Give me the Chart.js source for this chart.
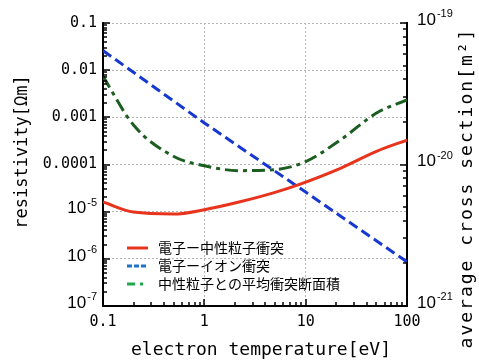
<!DOCTYPE html>
<html><head><meta charset="utf-8">
<script src="https://cdn.jsdelivr.net/npm/chart.js@4/dist/chart.umd.min.js"></script>
<style>html,body{margin:0;padding:0;background:#fff}#wrap{width:479px;height:362px}</style>
</head><body><div id="wrap"><canvas id="c" width="479" height="362"></canvas></div>
<script>
// ---- data ----
const seriesNames = ['電子ー中性粒子衝突', '電子ーイオン衝突', '中性粒子との平均衝突断面積'];
const redT = [0.1, 0.2, 0.5, 1, 2.2, 4.8, 8.7, 22, 50, 100];
const redRes = [1.6e-5, 9.8e-6, 8.9e-6, 1.1e-5, 1.6e-5, 2.5e-5, 3.8e-5, 8.3e-5, 1.9e-4, 3.3e-4];
const blueT = [0.1, 1, 10, 100];
const blueRes = [0.026, 7.6e-4, 2.6e-5, 8.6e-7];
const greenT = [0.1, 0.2, 0.5, 1, 2.2, 5, 10, 22, 50, 100];
const greenSigma = [4.2e-20, 1.9e-20, 1.14e-20, 9.8e-21, 9.05e-21, 9.2e-21, 1.05e-20, 1.49e-20, 2.31e-20, 2.86e-20];
const xTickValues = [0.1, 1, 10, 100];
const xTickLabels = ['0.1', '1', '10', '100'];
const yTickValues = [0.1, 0.01, 0.001, 0.0001, 1e-5, 1e-6, 1e-7];
const yTickLabels = ['0.1', '0.01', '0.001', '0.0001', '10^-5', '10^-6', '10^-7'];
const y2TickValues = [1e-19, 1e-20, 1e-21];
const y2TickLabels = ['10^-19', '10^-20', '10^-21'];
const xTitle = 'electron temperature[eV]';
const yTitle = 'resistivity[Ωm]';
const y2Title = 'average cross section[m²]';

const lineColors = ['#e8341c', '#1638d0', '#1b5e20'];
const legendColors = ['#e8341c', '#1e72c8', '#22a848'];
const lineDashes = [[], [10, 5], [13, 5, 4, 5]];
const legendDashes = [[], [5, 2], [8, 5, 3, 5]];

const tickFont = {family: 'DejaVu Sans Mono', size: 15};
const gridCol = '#b4b4b4';

function pts(xs, ys) { return xs.map((x, i) => ({x: x, y: ys[i]})); }
function plainLabel(arr) { return (v, i) => (arr[i].indexOf('^') >= 0 ? '' : arr[i]); }

function drawPow(ctx, label, x, y, align) {
  const parts = label.split('^');
  ctx.font = '17px "Liberation Sans"';
  const wb = ctx.measureText(parts[0]).width;
  ctx.font = '11px "Liberation Sans"';
  const we = ctx.measureText(parts[1]).width;
  const x0 = align === 'right' ? x - wb - we - 1 : x;
  ctx.textAlign = 'left';
  ctx.textBaseline = 'middle';
  ctx.font = '17px "Liberation Sans"';
  ctx.fillText(parts[0], x0, y - 3);
  ctx.font = '11px "Liberation Sans"';
  ctx.fillText(parts[1], x0 + wb + 1, y - 9);
}

const minorTicks = {
  id: 'minorTicks',
  afterDraw(chart) {
    const {ctx, chartArea: a, scales} = chart;
    ctx.save();
    ctx.strokeStyle = '#000';
    ctx.lineWidth = 1.5;
    const each = (min, max, fn) => {
      const e0 = Math.round(Math.log10(min)), e1 = Math.round(Math.log10(max));
      for (let e = e0; e < e1; e++) for (let m = 1; m < 10; m++) fn(m * Math.pow(10, e), m === 1);
      fn(Math.pow(10, e1), true);
    };
    each(0.1, 100, (v, maj) => {
      const p = Math.round(scales.x.getPixelForValue(v));
      const L = maj ? 7 : 4;
      ctx.beginPath(); ctx.moveTo(p, a.bottom); ctx.lineTo(p, a.bottom - L); ctx.stroke();
    });
    each(1e-7, 0.1, (v, maj) => {
      const p = Math.round(scales.y.getPixelForValue(v));
      const L = maj ? 7 : 4;
      ctx.beginPath(); ctx.moveTo(a.left, p); ctx.lineTo(a.left + L, p); ctx.stroke();
    });
    each(1e-21, 1e-19, (v, maj) => {
      const p = Math.round(scales.y2.getPixelForValue(v));
      const L = maj ? 7 : 4;
      ctx.beginPath(); ctx.moveTo(a.right, p); ctx.lineTo(a.right - L, p); ctx.stroke();
    });
    ctx.restore();
  }
};

const legendAndTitles = {
  id: 'legendAndTitles',
  afterDraw(chart) {
    const {ctx, chartArea: a, scales} = chart;
    ctx.save();
    // power-of-ten tick labels
    ctx.fillStyle = '#000';
    yTickValues.forEach((v, i) => {
      if (yTickLabels[i].indexOf('^') >= 0) drawPow(ctx, yTickLabels[i], a.left - 6, scales.y.getPixelForValue(v), 'right');
    });
    y2TickValues.forEach((v, i) => {
      if (y2TickLabels[i].indexOf('^') >= 0) drawPow(ctx, y2TickLabels[i], a.right + 10, scales.y2.getPixelForValue(v), 'left');
    });
    // legend
    const rows = [a.bottom - 58, a.bottom - 40, a.bottom - 22];
    ctx.font = '14px "Noto Sans CJK JP"';
    ctx.textBaseline = 'middle';
    ctx.textAlign = 'left';
    for (let i = 0; i < 3; i++) {
      ctx.strokeStyle = legendColors[i];
      ctx.lineWidth = 3;
      ctx.setLineDash(legendDashes[i]);
      ctx.beginPath(); ctx.moveTo(a.left + 24, rows[i]); ctx.lineTo(a.left + 45, rows[i]); ctx.stroke();
      ctx.setLineDash([]);
      ctx.fillStyle = '#000';
      ctx.fillText(seriesNames[i], a.left + 55, rows[i]);
    }
    // titles
    ctx.fillStyle = '#000';
    ctx.textAlign = 'center';
    ctx.textBaseline = 'middle';
    ctx.font = '18px "DejaVu Sans Mono"';
    ctx.fillText(xTitle, (a.left + a.right) / 2 + 6, 350);
    ctx.save();
    ctx.translate(23, 152);
    ctx.rotate(-Math.PI / 2);
    ctx.font = '17px "DejaVu Sans Mono"';
    ctx.fillText(yTitle, 0, 0);
    ctx.restore();
    ctx.save();
    ctx.translate(467, 188);
    ctx.rotate(-Math.PI / 2);
    ctx.font = '18px "DejaVu Sans Mono"';
    ctx.letterSpacing = '2px';
    ctx.fillText(y2Title, 0, 0);
    ctx.restore();
    ctx.restore();
  }
};

new Chart(document.getElementById('c'), {
  type: 'line',
  data: {
    datasets: [
      {label: seriesNames[0], data: pts(redT, redRes), yAxisID: 'y', borderColor: lineColors[0], borderWidth: 3, borderDash: lineDashes[0], pointRadius: 0, fill: false, cubicInterpolationMode: 'monotone'},
      {label: seriesNames[1], data: pts(blueT, blueRes), yAxisID: 'y', borderColor: lineColors[1], borderWidth: 3, borderDash: lineDashes[1], pointRadius: 0, fill: false},
      {label: seriesNames[2], data: pts(greenT, greenSigma), yAxisID: 'y2', borderColor: lineColors[2], borderWidth: 3, borderDash: lineDashes[2], pointRadius: 0, fill: false, cubicInterpolationMode: 'monotone'}
    ]
  },
  options: {
    responsive: false,
    animation: false,
    layout: {padding: {top: 23, left: 0, right: 0, bottom: 0}},
    plugins: {legend: {display: false}, tooltip: {enabled: false}},
    scales: {
      x: {
        type: 'logarithmic', min: 0.1, max: 100, position: 'bottom',
        afterBuildTicks: s => { s.ticks = xTickValues.map(v => ({value: v})); },
        afterFit: s => { s.height = 56; },
        ticks: {callback: plainLabel(xTickLabels), font: tickFont, color: '#000', padding: 7, maxRotation: 0, autoSkip: false},
        grid: {color: c => (c.tick && c.tick.value > 0.1 && c.tick.value < 100) ? gridCol : 'transparent', lineWidth: 1, drawTicks: false},
        border: {color: '#000', width: 2, dash: [2, 2]}
      },
      y: {
        type: 'logarithmic', min: 1e-7, max: 0.1, position: 'left',
        afterBuildTicks: s => { s.ticks = yTickValues.map(v => ({value: v})); },
        afterFit: s => { s.width = 103; },
        ticks: {callback: plainLabel(yTickLabels), font: tickFont, color: '#000', padding: 6, autoSkip: false},
        grid: {color: c => (c.tick && c.tick.value > 1e-7 * 1.01) ? gridCol : 'transparent', lineWidth: 1, drawTicks: false},
        border: {color: '#000', width: 2, dash: [2, 2]}
      },
      y2: {
        type: 'logarithmic', min: 1e-21, max: 1e-19, position: 'right',
        afterBuildTicks: s => { s.ticks = y2TickValues.map(v => ({value: v})); },
        afterFit: s => { s.width = 72; },
        ticks: {callback: plainLabel(y2TickLabels), font: tickFont, color: '#000', padding: 9, autoSkip: false},
        grid: {display: true, drawOnChartArea: false, drawTicks: false},
        border: {color: '#000', width: 2}
      }
    }
  },
  plugins: [minorTicks, legendAndTitles]
});
</script>
</body></html>
